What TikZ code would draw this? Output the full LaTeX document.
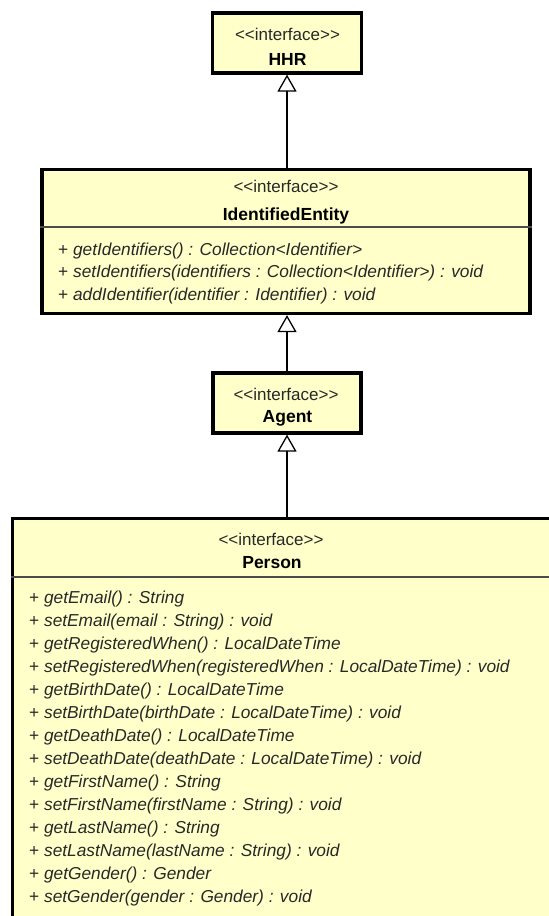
\documentclass[tikz,border=0pt]{standalone}
\usepackage{fontspec}
\setmainfont{Liberation Sans}
\usetikzlibrary{arrows.meta}
\definecolor{umlfill}{RGB}{255,255,202}
\definecolor{umltext}{RGB}{40,40,40}
\tikzset{
  umlbox/.style={draw=black, line width=3.2pt, fill=umlfill, inner sep=0pt},
  sepline/.style={draw=black!70, line width=1.2pt},
  stereo/.style={font=\fontsize{17}{20}\selectfont, text=umltext, anchor=base, inner sep=0pt},
  cname/.style={font=\fontsize{17.5}{20}\selectfont\bfseries, text=black, anchor=base, inner sep=0pt},
  meth/.style={font=\fontsize{17.3}{20}\selectfont, text=umltext, anchor=base west, inner sep=0pt},
  inh/.style={draw=black, line width=1.4pt, -{Triangle[open, width=19pt, length=17pt, line width=1.3pt, fill=white]}}
}
\newcommand{\mth}[1]{+ \textit{#1}}
\newcommand{\stereotxt}{<{}<interface>{}>}
\begin{document}
\begin{tikzpicture}[x=1pt,y=-1pt]
\path[use as bounding box, clip] (0,0) rectangle (549,916);
\fill[white] (0,0) rectangle (549,916);

% boxes
\node[umlbox, minimum width=149pt, minimum height=60pt] (hhr) at (287,43) {};
\node[umlbox, minimum width=488pt, minimum height=144pt] (ie) at (286,241.5) {};
\node[umlbox, minimum width=148pt, minimum height=60pt] (agent) at (287,403) {};
\node[umlbox, minimum width=570pt, minimum height=420pt] (person) at (297.5,728.5) {};

% separators
\coordinate (iesepL) at (ie.west |- 0,227);
\coordinate (iesepR) at (ie.east |- 0,227);
\draw[sepline] (iesepL) -- (iesepR);
\coordinate (psepL) at (person.west |- 0,577);
\coordinate (psepR) at (person.east |- 0,577);
\draw[sepline] (psepL) -- (psepR);

% HHR
\node[stereo] (hhrst) at (287.5,40) {\stereotxt};
\node[cname] (hhrnm) at (287.5,65) {HHR};

% IdentifiedEntity
\node[stereo] (iest) at (286,192) {\stereotxt};
\node[cname] (ienm) at (286,220) {IdentifiedEntity};
\node[meth] (iem1) at (58,255) {\mth{getIdentifiers() : Collection<Identifier>}};
\node[meth] (iem2) at (58,277.5) {\mth{setIdentifiers(identifiers : Collection<Identifier>) : void}};
\node[meth] (iem3) at (58,300) {\mth{addIdentifier(identifier : Identifier) : void}};

% Agent
\node[stereo] (agst) at (286,400) {\stereotxt};
\node[cname] (agnm) at (287.5,422) {Agent};

% Person
\node[stereo] (pst) at (271,545) {\stereotxt};
\node[cname] (pnm) at (272,568) {Person};
\foreach \t [count=\i from 0] in {
  {getEmail() : String},
  {setEmail(email : String) : void},
  {getRegisteredWhen() : LocalDateTime},
  {setRegisteredWhen(registeredWhen : LocalDateTime) : void},
  {getBirthDate() : LocalDateTime},
  {setBirthDate(birthDate : LocalDateTime) : void},
  {getDeathDate() : LocalDateTime},
  {setDeathDate(deathDate : LocalDateTime) : void},
  {getFirstName() : String},
  {setFirstName(firstName : String) : void},
  {getLastName() : String},
  {setLastName(lastName : String) : void},
  {getGender() : Gender},
  {setGender(gender : Gender) : void}}
  \node[meth] (pm\i) at (29,603+23*\i) {\mth{\t}};

% generalizations
\draw[inh] (hhr.south |- ie.north) -- (hhr.south);
\draw[inh] (agent.north) -- (agent.north |- ie.south);
\draw[inh] (agent.south |- person.north) -- (agent.south);
\end{tikzpicture}
\end{document}
